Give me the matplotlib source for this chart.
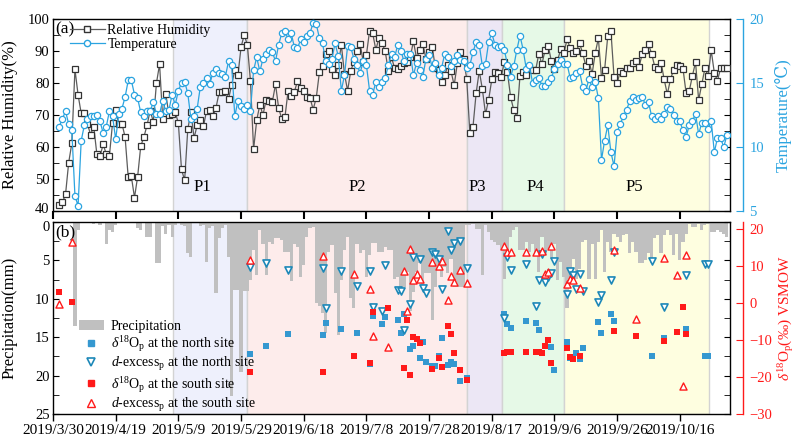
import numpy as np
import matplotlib
matplotlib.use("Agg")
import matplotlib.pyplot as plt
import matplotlib.transforms as mtrans
from matplotlib.lines import Line2D
from matplotlib.patches import Patch
from matplotlib.ticker import MultipleLocator
from datetime import date, timedelta

plt.rcParams['font.family'] = ['Liberation Serif', 'DejaVu Serif', 'DejaVu Sans']
plt.rcParams['mathtext.fontset'] = 'custom'
plt.rcParams['mathtext.rm'] = 'Liberation Serif'
plt.rcParams['mathtext.it'] = 'Liberation Serif:italic'
plt.rcParams['axes.linewidth'] = 1.0

# all day numbers count from 2019-03-30 (first tick); daily series start on 4/1
origin = date(2019, 3, 30)
first_day = 2

# relative humidity (%), daily
rh = [41.9, 42.7, 45.2, 55.1, 61.1, 84.3, 76.3, 70.5, 70.5, 67.1,
      63.9, 66.4, 57.7, 57.1, 60.8, 57.8, 57.3, 67.5, 71.6, 67.1,
      67.3, 63.1, 50.5, 50.8, 44.2, 50.7, 60.3, 63.1, 66.8, 71.4,
      67.9, 79.9, 85.9, 68.8, 76.5, 70.0, 70.3, 71.0, 67.4, 53.0,
      49.6, 65.5, 71.0, 62.8, 66.8, 68.3, 66.5, 71.3, 71.5, 69.6,
      72.2, 77.1, 77.2, 77.5, 75.0, 79.4, 84.1, 82.4, 91.2, 95.0,
      92.0, 80.6, 59.3, 68.4, 73.2, 70.0, 74.7, 74.4,
      74.2, 79.6, 72.1, 68.8, 69.3, 77.5, 75.8, 77.2, 80.6, 78.4,
      77.6, 75.5, 75.4, 71.7, 75.4, 83.4, 85.4, 89.1, 90.0, 84.3,
      82.5, 85.6, 91.9, 82.8, 77.6, 83.8, 86.6, 90.1, 92.1, 86.5,
      88.8, 96.3, 95.5, 90.4, 94.0, 92.4, 89.9, 83.6, 88.0, 84.6,
      84.3, 85.3, 86.4, 86.5, 88.2, 93.0, 87.7, 90.3, 92.1, 87.6,
      89.6, 91.3, 84.6, 84.0, 80.2, 82.4, 85.7, 83.6, 79.3, 86.1,
      89.7, 87.4,
      81.3, 64.3, 66.3, 76.8, 83.8, 78.0, 70.3, 74.8, 81.1, 83.5,
      83.0, 82.0, 86.5, 83.3, 75.6, 71.6, 69.2, 82.3, 83.5, 82.5,
      84.6, 84.1, 84.1, 89.1, 85.9, 90.3, 91.6, 86.9, 84.3, 87.2,
      90.5, 89.3, 93.6, 91.0, 89.5, 90.1, 92.4, 89.3, 85.3, 86.9,
      82.8, 89.3, 94.0, 81.7, 84.1, 94.7, 96.3, 81.9, 79.9, 83.8,
      83.0, 84.6, 84.6, 86.1, 87.0, 85.1, 89.1, 90.3, 92.2, 89.1,
      85.1, 84.4, 86.4, 81.1, 76.5, 81.1, 84.1, 85.6, 85.3, 84.5,
      76.8, 77.5, 82.2, 86.5, 74.7, 79.6, 84.6, 82.2, 90.2, 83.2,
      80.7, 84.6, 84.6, 84.6]

# air temperature (deg C), daily
temp = [11.6, 12.2, 12.8, 11.8, 11.3, 6.2, 5.4, 10.5, 11.7, 12.2,
        12.4, 12.4, 12.5, 12.0, 11.1, 11.6, 12.8, 12.4, 10.6, 12.6,
        13.0, 13.9, 15.2, 15.2, 14.1, 13.8, 12.7, 12.4, 12.8, 12.8,
        13.5, 12.6, 12.6, 13.6, 12.8, 12.9, 14.1, 13.3, 14.4, 15.0,
        15.1, 14.2, 12.2, 12.4, 13.0, 14.7, 15.0, 15.4, 14.9, 15.8,
        16.1, 15.8, 15.7, 15.5, 16.7, 16.4, 12.4, 13.6, 13.2, 13.0,
        13.3, 12.8,
        16.0, 17.0, 15.9, 16.9, 17.3, 17.6, 17.4, 16.7, 18.0, 18.9,
        19.1, 18.4, 18.9, 17.8, 17.7, 18.4, 18.2, 18.7, 18.9, 19.7,
        19.6, 18.5, 18.1, 16.7, 16.5, 16.9, 18.1, 17.1, 14.4, 15.6,
        17.9, 17.8, 16.9, 16.4, 15.8, 16.7, 16.4, 14.4,
        14.1, 15.1, 14.7, 15.1, 15.4, 16.4, 17.3, 17.0, 18.0, 17.5,
        16.7, 17.3, 17.3, 15.6, 16.6, 16.0, 15.5, 16.9, 17.2, 16.2,
        16.6, 15.6, 16.2, 17.3, 17.0, 16.3, 16.7, 17.2, 16.8, 16.7,
        16.2, 16.4, 17.4, 18.2, 18.0, 16.3, 16.5, 18.2, 18.9, 18.0,
        17.8, 17.9, 17.6, 16.4, 15.5, 16.3, 17.6, 18.7, 17.6, 16.1,
        16.4, 15.0, 15.2, 15.4, 14.8, 14.8, 15.1, 15.4, 16.1, 16.5,
        16.8, 16.5, 16.5, 15.4, 15.5, 15.8, 15.9, 14.7, 14.4, 15.3,
        14.7, 15.1, 13.8,
        9.0, 10.5, 11.7, 9.6, 8.5, 11.2, 11.8, 12.4, 12.9, 13.6,
        13.9, 13.7, 13.8, 13.9, 13.3, 13.5, 12.4, 12.2, 12.4, 12.2,
        12.6, 13.1, 13.0, 12.5, 12.0, 12.0, 11.3, 10.8, 11.7, 12.0,
        12.6, 11.0, 11.9, 11.9, 11.4, 12.0, 9.6, 10.7, 10.7, 10.0,
        10.9]

# precipitation (mm), daily
precip = [0, 0, 0, 0, 0, 13.5, 1.0, 0, 0, 0,
          0, 0.3, 0, 0.4, 0, 2.8, 1.0, 1.3, 0.4, 0,
          0, 0, 0, 0, 0, 0.8, 1.0, 0, 1.9, 2.0,
          0, 5.4, 5.4, 0.5, 1.5, 0.4, 1.9, 0.4, 0, 0.4,
          0.5, 4.1, 4.5, 0, 0, 0.5, 0.4, 5.2, 0.8, 0.5,
          9.3, 2.1, 0.8, 0.4, 4.5, 22.7, 8.9, 8.9, 19.5, 9.0,
          9.0, 7.6, 3.7, 6.9, 1.0, 2.8, 6.9, 2.6, 2.8, 2.1,
          2.1, 2.3, 3.9, 3.9, 7.7, 2.8, 3.2, 7.1, 5.6, 1.9,
          0.8, 0.6, 10.6, 11.0, 11.9, 14.5, 3.9, 3.0, 9.3, 14.7,
          7.6, 3.7, 1.9, 9.9, 11.2, 2.8, 4.1, 3.7, 7.1, 4.3,
          2.7, 2.7, 3.9, 3.9, 3.3, 3.7, 3.7, 7.4, 7.2, 9.3,
          8.5, 6.5, 11.6, 9.1, 6.5, 5.4, 8.7, 6.7, 6.7, 12.7,
          8.5, 6.1, 7.2, 5.9, 6.7, 4.8, 8.5, 8.5, 8.5, 8.5,
          0.4, 0.4, 0.2, 0.9, 0.9, 6.9, 0.4, 1.3, 2.3, 2.6,
          3.0, 3.7, 7.4, 4.3, 2.0, 1.1, 0.7, 3.7, 3.7, 2.6,
          3.9, 2.8, 4.1, 6.5, 2.0, 4.3, 3.5, 4.8, 2.8, 7.6,
          5.2, 7.1, 11.2, 7.2, 4.8, 7.4, 6.1, 2.6, 2.4, 7.4,
          2.8, 7.4, 2.6, 1.1, 6.5, 2.6, 3.9, 1.5, 2.0, 2.6,
          1.7, 1.5, 4.1, 2.6, 3.9, 5.4, 5.4, 5.0, 4.1, 5.4,
          2.1, 1.7, 4.1, 1.7, 1.0, 1.7, 4.3, 1.5, 5.0, 2.6,
          1.5, 0.2, 0.6, 0.6, 0.2, 1.0, 0.4, 0.2, 1.3, 1.3,
          1.0, 1.3, 1.5, 1.9]

# isotope samples (per mil VSMOW)
north_d18o_day = [63, 68, 75, 86, 87, 92, 97, 101, 102, 105, 106, 110, 111, 112, 114,
                  115, 117, 118, 119, 121, 122, 123, 124, 126, 127, 128, 130, 132, 144, 145,
                  146, 151, 154, 155, 159, 160, 164, 165, 167, 168, 169, 174, 175, 178, 179,
                  191, 195, 202, 208, 209]
north_d18o = [-13.7, -11.6, -8.3, -8.5, -5.4, -7.0, -8.1, -16.5, -3.5, -5.6, -3.7, -4.5, -8.1, -3.0, -12.4,
              -11.7, -14.8, -10.5, -15.8, -17.0, -16.9, -14.4, -9.3, -16.8, -15.8, -16.5, -21.1, -20.3, -2.9, -5.6,
              -6.8, -4.8, -5.4, -7.3, -11.8, -18.1, -10.6, -14.8, -13.6, -15.0, -12.2, -5.2, -8.1, -2.9, -4.8,
              -14.4, -9.4, -6.9, -14.2, -14.4]
north_dex_day = [63, 68, 75, 86, 87, 92, 97, 101, 102, 105, 106, 110, 111, 112, 114,
                 115, 117, 118, 119, 121, 122, 123, 124, 126, 127, 128, 130, 132, 144, 145,
                 146, 151, 154, 155, 156, 157, 158, 159, 160, 164, 165, 166, 167, 168, 169,
                 174, 175, 178, 179, 191, 195, 202, 208, 209]
north_dex = [9.8, 10.8, 8.9, 9.6, -1.3, 8.7, 4.6, 8.7, -1.0, -2.0, 10.3, 3.5, 3.2, -7.2, -0.2,
             12.6, 11.9, 4.0, 2.8, 13.9, 13.2, 12.0, 3.9, 19.5, 14.4, 16.2, 16.8, 9.6, -3.9, 12.5,
             8.9, 10.6, -0.7, 6.4, 13.4, 5.8, 7.0, 8.2, 11.4, 2.5, 8.6, 7.7, 3.8, 7.9, 3.2,
             0.3, 2.1, 6.3, 13.8, 11.4, -1.1, 7.6, 10.5, 10.5]
south_d18o_day = [2, 6, 63, 86, 96, 101, 102, 107, 112, 113, 114, 115, 116, 117, 121,
                  123, 124, 126, 127, 128, 130, 132, 144, 145, 146, 151, 154, 155, 156, 157,
                  158, 159, 164, 165, 166, 168, 179, 186, 195, 199, 201, 202]
south_d18o = [3.1, 0.3, -18.7, -18.7, -14.3, -16.1, -2.4, -1.3, -17.6, -4.6, -19.5, -9.2, -9.7, -10.8, -17.9,
              -14.9, -17.2, -6.2, -8.3, -13.5, -18.1, -20.7, -13.4, -13.3, -13.2, -13.2, -13.2, -13.2, -13.4, -11.6,
              -10.0, -16.3, -12.0, -14.5, -15.1, -14.4, -7.5, -8.8, -10.3, -7.8, -1.0, -8.4]
south_dex_day = [2, 6, 63, 86, 96, 101, 102, 107, 112, 113, 114, 115, 116, 117, 121,
                 123, 124, 126, 127, 128, 130, 132, 144, 145, 146, 151, 154, 156, 157, 158,
                 159, 164, 165, 166, 168, 179, 186, 195, 199, 201, 202]
south_dex = [-0.2, 16.6, 11.6, 12.8, 7.8, 3.9, -9.0, -11.8, 8.6, -2.0, 14.6, 6.2, 7.8, 6.6, 11.1,
             10.2, 11.4, 1.0, 7.3, 5.8, 9.1, 5.6, 15.4, 13.8, 13.8, 13.8, 13.8, 14.1, 7.9, 8.4,
             15.4, 5.2, 6.6, 6.3, 4.2, 14.5, -4.2, 12.3, 7.6, -22.3, 13.0]

# periods
period_names = ['P1', 'P2', 'P3', 'P4', 'P5']
period_edges = [38.3, 61.8, 132.0, 143.1, 163.1, 209.2]
period_colors = ['#eef0fc', '#fdeceb', '#ece7f5', '#e6f9e7', '#fefee0']
period_label_day = [47.5, 97, 135.5, 154, 185.5]

tick_days = list(range(0, 201, 20))

days = np.arange(first_day, first_day + len(rh))
tick_labels = []
for t in tick_days:
    d = origin + timedelta(days=t)
    tick_labels.append(f"{d.year}/{d.month}/{d.day}")

blue = '#2ba4e0'
red = '#ff1a1a'
sq_blue = '#3598d0'
tri_blue = '#1d88b8'


def nudge_label(axis, value, dy_px, fig):
    # move one tick label up/down by a few pixels
    locs = list(axis.get_majorticklocs())
    ticks = axis.get_major_ticks(len(locs))
    for loc, tick in zip(locs, ticks):
        if np.isclose(loc, value):
            lab = tick.label1
            lab.set_transform(lab.get_transform() +
                              mtrans.ScaledTranslation(0, dy_px / fig.dpi, fig.dpi_scale_trans))


fig = plt.figure(figsize=(8.02, 4.44), dpi=100)
ax1 = fig.add_axes([53/802, 1-211/444, 677/802, 192/444])
ax3 = fig.add_axes([53/802, 1-414/444, 677/802, 192/444])

for ax in (ax1, ax3):
    for i in range(len(period_names)):
        ax.axvspan(period_edges[i], period_edges[i+1], facecolor=period_colors[i],
                   edgecolor='#d3d3d3', lw=1, zorder=0)
    ax.set_xlim(0, 216)
    ax.set_xticks(tick_days)

# ---- top panel
ax2 = ax1.twinx()
ax1.plot(days, rh, color='#5c5c5c', lw=0.9, marker='s', ms=4.3, mfc='white',
         mec='#333333', mew=0.9, zorder=3)
ax2.plot(days, temp, color=blue, lw=0.9, marker='o', ms=4.5, mfc='white',
         mec=blue, mew=0.9, zorder=3)
ax1.set_ylim(40, 100)
ax1.yaxis.set_major_locator(MultipleLocator(10))
ax1.yaxis.set_minor_locator(MultipleLocator(5))
ax1.tick_params(axis='y', which='both', direction='in', left=True, right=True,
                labelsize=10.5, pad=2.5, length=4)
ax1.tick_params(axis='x', direction='out', length=6, width=1.5, labelbottom=False)
ax1.set_ylabel('Relative Humidity(%)', fontsize=12)
ax1.yaxis.set_label_coords(-0.052, 0.5)

ax2.set_ylim(5, 20)
ax2.set_yticks([5, 10, 15, 20])
for s in ('left', 'top', 'bottom'):
    ax2.spines[s].set_visible(False)
ax2.spines['right'].set_position(('outward', 9))
ax2.spines['right'].set_color(blue)
ax2.tick_params(axis='y', direction='in', length=5, color=blue, labelcolor=blue,
                labelsize=10.5, pad=5)
ax2.set_ylabel('Temperature(℃)', fontsize=12, color=blue)
ax2.yaxis.set_label_coords(1.066, 0.5)

for name, xd in zip(period_names, period_label_day):
    ax1.text(xd, 47.5, name, ha='center', va='center', fontsize=12, zorder=5)
ax1.text(0.004, 0.985, '(a)', transform=ax1.transAxes, ha='left', va='top', fontsize=12.5)

h_rh = Line2D([], [], color='#5c5c5c', lw=0.9, marker='s', ms=4.3, mfc='white', mec='#333333')
h_t = Line2D([], [], color=blue, lw=0.9, marker='o', ms=4.5, mfc='white', mec=blue)
ax2.legend([h_rh, h_t], ['Relative Humidity', 'Temperature'], loc='upper left',
           bbox_to_anchor=(0.025, 0.975), frameon=False, fontsize=10, handlelength=2.5,
           borderpad=0, borderaxespad=0, labelspacing=0.1, handletextpad=0.2)

# ---- bottom panel
ax4 = ax3.twinx()
ax3.bar(days, precip, width=1.0, color='#c0c0c0', lw=0, zorder=1)
ax3.set_ylim(25, 0)
ax3.yaxis.set_major_locator(MultipleLocator(5))
ax3.yaxis.set_minor_locator(MultipleLocator(2.5))
ax3.tick_params(axis='y', which='both', direction='in', left=True, right=True,
                labelsize=10.5, pad=2.5, length=4)
ax3.tick_params(axis='x', direction='out', length=5, width=1.0, labelsize=11, pad=2)
ax3.set_xticklabels(tick_labels)
ax3.set_ylabel('Precipitation(mm)', fontsize=12)
ax3.yaxis.set_label_coords(-0.052, 0.5)
ax3.text(0.004, 0.99, '(b)', transform=ax3.transAxes, ha='left', va='top', fontsize=12.5)

# "40" and "0" meet at the panel join, push them apart a little
nudge_label(ax1.yaxis, 40, 3, fig)
nudge_label(ax3.yaxis, 0, -4, fig)

ax4.scatter(north_d18o_day, north_d18o, marker='s', s=22, color=sq_blue, lw=0, zorder=3)
ax4.scatter(north_dex_day, north_dex, marker='v', s=26, facecolor='white',
            edgecolor=tri_blue, lw=1.2, zorder=3)
ax4.scatter(south_d18o_day, south_d18o, marker='s', s=22, color=red, lw=0, zorder=4)
ax4.scatter(south_dex_day, south_dex, marker='^', s=26, facecolor='white',
            edgecolor=red, lw=1.0, zorder=4)
ax4.set_ylim(-30, 22)
ax4.set_yticks([-30, -20, -10, 0, 10, 20])
for s in ('left', 'top', 'bottom'):
    ax4.spines[s].set_visible(False)
ax4.spines['right'].set_position(('outward', 9))
ax4.spines['right'].set_color(red)
ax4.tick_params(axis='y', direction='in', length=5, color=red, labelcolor=red,
                labelsize=10.5, pad=5)
ax4.set_ylabel(r'$\delta^{18}$O$_\mathrm{p}$(‰) VSMOW', fontsize=11, color=red)
ax4.yaxis.set_label_coords(1.068, 0.5)

handles = [
    Patch(facecolor='#c0c0c0', edgecolor='none'),
    Line2D([], [], ls='none', marker='s', ms=5, color=sq_blue, mec=sq_blue),
    Line2D([], [], ls='none', marker='v', ms=5.5, mfc='white', mec=tri_blue, mew=1.2),
    Line2D([], [], ls='none', marker='s', ms=5, color=red, mec=red),
    Line2D([], [], ls='none', marker='^', ms=5.5, mfc='white', mec=red, mew=1.0),
]
labels = ['Precipitation',
          r'$\delta^{18}$O$_\mathrm{p}$ at the north site',
          r'$d$-excess$_\mathrm{p}$ at the north site',
          r'$\delta^{18}$O$_\mathrm{p}$ at the south site',
          r'$d$-excess$_\mathrm{p}$ at the south site']
ax4.legend(handles, labels, loc='lower left', bbox_to_anchor=(0.038, 0.0),
           frameon=False, fontsize=10, handlelength=1.8, handleheight=0.8,
           borderpad=0, borderaxespad=0, labelspacing=0.1, handletextpad=0.5)

fig.savefig('out.png', dpi=100)
